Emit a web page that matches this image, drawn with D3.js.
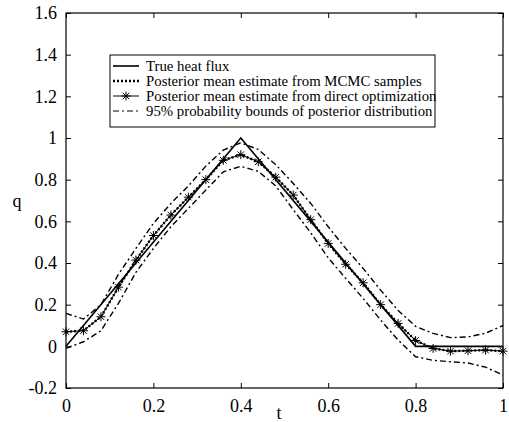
<!DOCTYPE html>
<html><head><meta charset="utf-8">
<script src="https://cdn.jsdelivr.net/npm/d3@7/dist/d3.min.js"></script>
<style>body{margin:0;background:#fff}svg{display:block}</style>
</head><body>
<script>
const tVals = [0,0.04,0.08,0.12,0.16,0.2,0.24,0.28,0.32,0.36,0.4,0.44,0.48,0.52,0.56,0.6,0.64,0.68,0.72,0.76,0.8,0.84,0.88,0.92,0.96,1];
const trueT = [0, 0.4, 0.8, 1];
const trueQ = [0, 1, 0, 0];
const directOpt = [0.07,0.075,0.142,0.284,0.414,0.532,0.63,0.716,0.80,0.893,0.92,0.886,0.812,0.726,0.608,0.494,0.394,0.305,0.2,0.11,0.028,-0.01,-0.023,-0.021,-0.018,-0.023];
const mcmcMean = [0.07,0.075,0.142,0.284,0.414,0.532,0.63,0.716,0.80,0.893,0.92,0.886,0.812,0.726,0.608,0.494,0.394,0.305,0.2,0.11,0.028,-0.01,-0.023,-0.021,-0.018,-0.023];
const upperBound = [0.158,0.131,0.2,0.345,0.47,0.59,0.686,0.77,0.865,0.942,0.977,0.945,0.872,0.782,0.686,0.574,0.47,0.374,0.27,0.172,0.096,0.062,0.042,0.045,0.063,0.1];
const lowerBound = [-0.01,0.022,0.075,0.206,0.355,0.47,0.574,0.662,0.75,0.838,0.864,0.84,0.77,0.656,0.545,0.425,0.326,0.23,0.126,0.03,-0.05,-0.067,-0.074,-0.08,-0.1,-0.138];
const xTicks = [0,0.2,0.4,0.6,0.8,1];
const xTickLabels = ["0","0.2","0.4","0.6","0.8","1"];
const yTicks = [-0.2,0,0.2,0.4,0.6,0.8,1,1.2,1.4,1.6];
const yTickLabels = ["-0.2","0","0.2","0.4","0.6","0.8","1","1.2","1.4","1.6"];
const legendLabels = ["True heat flux","Posterior mean estimate from MCMC samples","Posterior mean estimate from direct optimization","95% probability bounds of posterior distribution"];

const W=509,H=422;
const L=66,R=503,T=13,B=388;
const svg=d3.select("body").append("svg").attr("width",W).attr("height",H);
const x=d3.scaleLinear().domain([0,1]).range([L,R]);
const y=d3.scaleLinear().domain([-0.2,1.6]).range([B,T]);
const font="Liberation Serif, Times New Roman, serif";

// axes with inward ticks
const tl=5;
svg.append("g").attr("transform",`translate(0,${B})`)
  .call(d3.axisBottom(x).tickValues(xTicks).tickFormat((d,i)=>xTickLabels[i]).tickSizeInner(-tl).tickSizeOuter(0).tickPadding(11))
  .call(g=>{g.select(".domain").remove();g.selectAll("text").attr("font-family",font).attr("font-size",18).attr("fill","#000");g.selectAll("line").attr("stroke","#000");});
svg.append("g").attr("transform",`translate(0,${T})`)
  .call(d3.axisTop(x).tickValues(xTicks).tickFormat("").tickSizeInner(-tl).tickSizeOuter(0))
  .call(g=>{g.select(".domain").remove();g.selectAll("line").attr("stroke","#000");});
svg.append("g").attr("transform",`translate(${L},0)`)
  .call(d3.axisLeft(y).tickValues(yTicks).tickFormat((d,i)=>yTickLabels[i]).tickSizeInner(-tl).tickSizeOuter(0).tickPadding(9))
  .call(g=>{g.select(".domain").remove();g.selectAll("text").attr("font-family",font).attr("font-size",18).attr("fill","#000");g.selectAll("line").attr("stroke","#000");});
svg.append("g").attr("transform",`translate(${R},0)`)
  .call(d3.axisRight(y).tickValues(yTicks).tickFormat("").tickSizeInner(-tl).tickSizeOuter(0))
  .call(g=>{g.select(".domain").remove();g.selectAll("line").attr("stroke","#000");});
svg.append("rect").attr("x",L).attr("y",T).attr("width",R-L).attr("height",B-T)
  .attr("fill","none").attr("stroke","#000").attr("stroke-width",1.2);

svg.append("text").attr("x",279).attr("y",419).attr("text-anchor","middle")
  .attr("font-family",font).attr("font-size",18).text("t");
svg.append("text").attr("x",17).attr("y",207).attr("text-anchor","middle")
  .attr("font-family",font).attr("font-size",18).text("q");

const line=d3.line().x(d=>x(d[0])).y(d=>y(d[1]));
const pts=a=>tVals.map((t,i)=>[t,a[i]]);

// bounds
[upperBound,lowerBound].forEach(a=>{
  svg.append("path").attr("d",line(pts(a))).attr("fill","none").attr("stroke","#000")
    .attr("stroke-width",1.4).attr("stroke-dasharray","6,3,2,3");
});
// true
svg.append("path").attr("d",line(trueT.map((t,i)=>[t,trueQ[i]]))).attr("fill","none")
  .attr("stroke","#000").attr("stroke-width",1.6);
// direct opt line
svg.append("path").attr("d",line(pts(directOpt))).attr("fill","none")
  .attr("stroke","#000").attr("stroke-width",1);
// mcmc dotted
svg.append("path").attr("d",line(pts(mcmcMean))).attr("fill","none")
  .attr("stroke","#000").attr("stroke-width",2.4).attr("stroke-dasharray","2,2");

function star(g,cx,cy,r){
  const p=d3.path();
  p.moveTo(cx-r,cy);p.lineTo(cx+r,cy);
  p.moveTo(cx,cy-r);p.lineTo(cx,cy+r);
  const k=r*0.72;
  p.moveTo(cx-k,cy-k);p.lineTo(cx+k,cy+k);
  p.moveTo(cx-k,cy+k);p.lineTo(cx+k,cy-k);
  g.append("path").attr("d",p.toString()).attr("stroke","#000").attr("stroke-width",1).attr("fill","none");
}
const sg=svg.append("g");
tVals.forEach((t,i)=>star(sg,x(t),y(directOpt[i]),4.5));

// legend
const lg=svg.append("g");
lg.append("rect").attr("x",110).attr("y",55).attr("width",325).attr("height",72)
  .attr("fill","#fff").attr("stroke","#000").attr("stroke-width",1);
const rows=[66,81,96,111];
const lx1=113,lx2=139;
lg.append("line").attr("x1",lx1).attr("x2",lx2).attr("y1",rows[0]).attr("y2",rows[0]).attr("stroke","#000").attr("stroke-width",1.6);
lg.append("line").attr("x1",lx1).attr("x2",lx2).attr("y1",rows[1]).attr("y2",rows[1]).attr("stroke","#000").attr("stroke-width",2.4).attr("stroke-dasharray","2,2");
lg.append("line").attr("x1",lx1).attr("x2",lx2).attr("y1",rows[2]).attr("y2",rows[2]).attr("stroke","#000").attr("stroke-width",1);
star(lg,(lx1+lx2)/2,rows[2],4.5);
lg.append("line").attr("x1",lx1).attr("x2",lx2).attr("y1",rows[3]).attr("y2",rows[3]).attr("stroke","#000").attr("stroke-width",1.2).attr("stroke-dasharray","6,3,2,3");
legendLabels.forEach((s,i)=>{
  lg.append("text").attr("x",146).attr("y",rows[i]+5).attr("font-family",font)
    .attr("font-size",14.8).text(s);
});
</script>
</body></html>
